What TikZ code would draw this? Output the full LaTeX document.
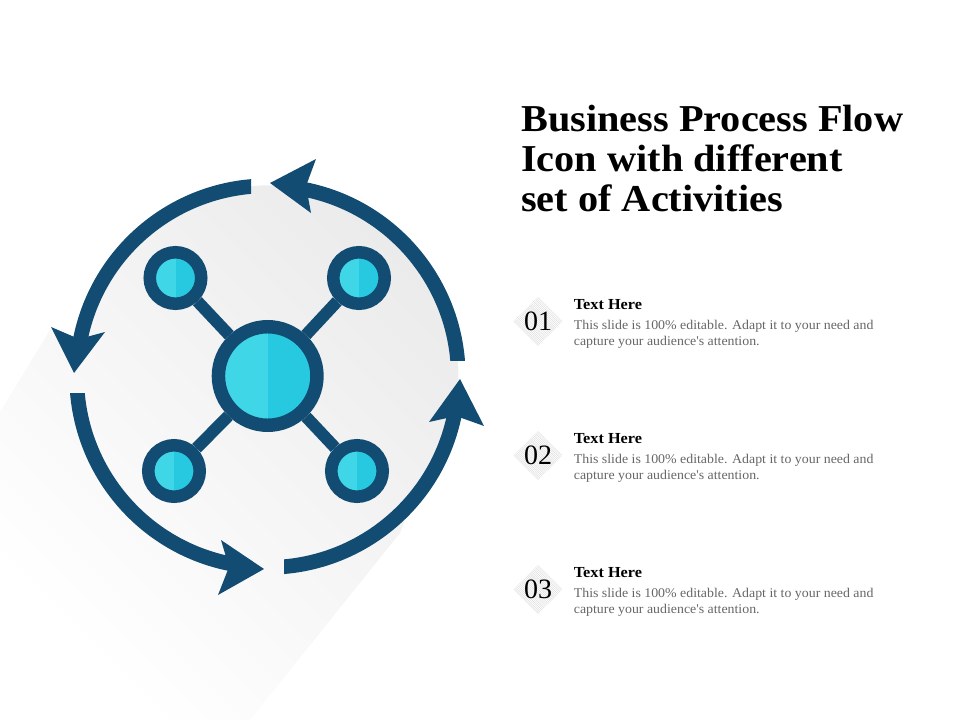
\documentclass[tikz,border=0pt]{standalone}
\usepackage{fontspec}
\usetikzlibrary{shapes.geometric}
\setmainfont{Liberation Serif}
\newfontfamily\titlefont[FakeStretch=1.06]{Liberation Serif}
\newfontfamily\bodyfont[FakeStretch=1.04]{Liberation Serif}
\definecolor{navy}{HTML}{134C72}
\definecolor{cyanL}{HTML}{3FD6E8}
\definecolor{cyanD}{HTML}{26C9E0}
\definecolor{bodygray}{HTML}{666666}
\definecolor{hatch}{HTML}{DCDCDC}
\tikzset{
  ringarc/.style={draw=navy,line width=11pt},
  headtip/.style={fill=navy,draw=none},
  hub/.style={circle,draw=navy,fill=cyanL,inner sep=0pt,line width=10.1pt,minimum size=73.9pt,
    path picture={\fill[cyanD] (path picture bounding box.north) rectangle (path picture bounding box.south east);}},
  leaf/.style={circle,draw=navy,fill=cyanL,inner sep=0pt,line width=9.4pt,minimum size=38.6pt,
    path picture={\fill[cyanD] (path picture bounding box.north) rectangle (path picture bounding box.south east);}},
  spoke/.style={draw=navy,line width=9pt},
  titletext/.style={anchor=base west,inner sep=0pt,font=\titlefont\fontsize{28.5}{28.5}\selectfont\bfseries,text=black},
  headtext/.style={anchor=base west,inner sep=0pt,font=\titlefont\fontsize{11.5}{12}\selectfont\bfseries,text=black},
  bodytext/.style={anchor=base west,inner sep=0pt,font=\bodyfont\fontsize{10}{12}\selectfont,text=bodygray},
  numdiamond/.style={diamond,inner sep=0pt,minimum width=37pt,minimum height=37pt,aspect=1,
    font=\fontsize{21}{21}\selectfont,text=black,
    path picture={\foreach \k in {-30,-28.4,...,30}{\draw[hatch,line width=0.35pt]
      ([xshift=\k pt]path picture bounding box.center) ++(-30pt,30pt) -- ++(60pt,-60pt);}}},
}
\begin{document}
\begin{tikzpicture}[x=0.75pt,y=-0.75pt]
\useasboundingbox (0,0) rectangle (960,720);
% long shadow
\shade[top color=black!8,middle color=black!3.5,bottom color=white,shading angle=-45]
  (50,330) -- (0,412) -- (0,720) -- (250,720) -- (400,533) -- (414,497.4)
  arc[start angle=-40,end angle=170,radius=142.5pt] -- cycle;
% arcs
\begin{scope}
\clip (100,100) rectangle (500,360);
\draw[ringarc] (458.3,376.6) arc[start angle=0,end angle=80,radius=143.1pt];
\end{scope}
\begin{scope}
\clip (0,100) rectangle (251,400);
\draw[ringarc] (267.5,185.8) arc[start angle=90,end angle=169,radius=143.1pt];
\end{scope}
\begin{scope}
\clip (0,393) rectangle (400,700);
\draw[ringarc] (76.7,376.6) arc[start angle=180,end angle=259,radius=143.1pt];
\end{scope}
\begin{scope}
\clip (284,300) rectangle (500,700);
\draw[ringarc] (267.5,567.4) arc[start angle=270,end angle=349,radius=143.1pt];
\end{scope}
% heads
\fill[headtip] (270,183) -- (316,159) -- (306,186) -- (311,213) -- cycle;
\fill[headtip] (74,373) -- (51,327) -- (79,339) -- (105,332) -- cycle;
\fill[headtip] (264,569) -- (221,540) -- (229,567) -- (218,595) -- cycle;
\fill[headtip] (460,379) -- (429,422) -- (456,416) -- (484,426) -- cycle;
% network
\node[hub] (c) at (267.7,376) {};
\node[leaf] (tl) at (175.5,278) {};
\node[leaf] (tr) at (359,278) {};
\node[leaf] (bl) at (174,471) {};
\node[leaf] (br) at (357,471) {};
\draw[spoke] (c) -- (tl);
\draw[spoke] (c) -- (tr);
\draw[spoke] (c) -- (bl);
\draw[spoke] (c) -- (br);
% title
\node[titletext] (t1) at (521,132) {Business Process Flow};
\node[titletext] (t2) at (521,172) {Icon with different};
\node[titletext] (t3) at (521,212) {set of Activities};
% items
\foreach \n/\y in {01/0,02/134,03/268}{
  \node[numdiamond] (d\n) at (538,321.5+\y) {\n};
  \node[headtext] (h\n) at (573.6,309.5+\y) {Text Here};
  \node[bodytext] (a\n) at (573.6,329.5+\y) {This slide is 100\% editable. Adapt it to your need and};
  \node[bodytext] (b\n) at (573.6,345+\y) {capture your audience's attention.};
}
\end{tikzpicture}
\end{document}
